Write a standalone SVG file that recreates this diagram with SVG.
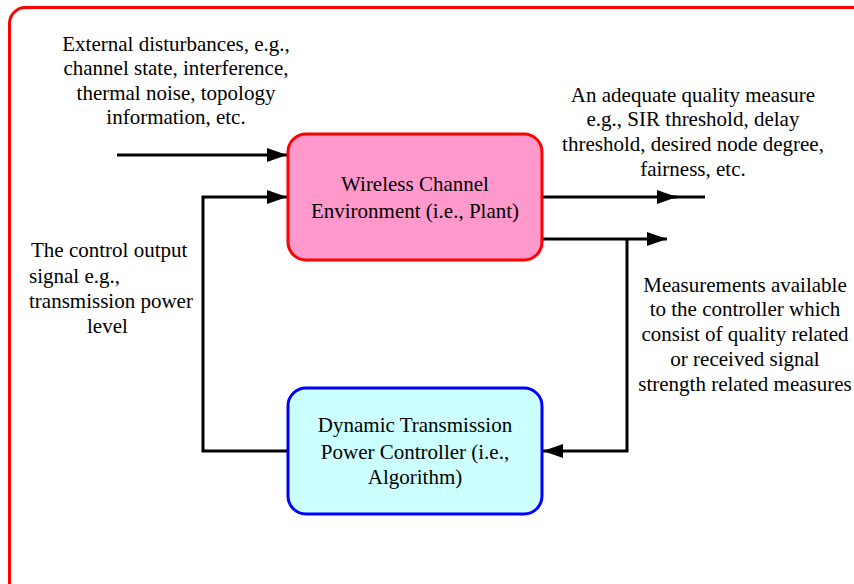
<svg xmlns="http://www.w3.org/2000/svg" width="854" height="584" viewBox="0 0 854 584">
<style>
text{font-family:"Liberation Serif","Times New Roman",serif;font-size:21px;fill:#000}
.c{text-anchor:middle}
.w{fill:none;stroke:#000;stroke-width:3}
</style>
<defs>
<marker id="ah" markerWidth="20" markerHeight="14" refX="20" refY="7" orient="auto" markerUnits="userSpaceOnUse">
<path d="M0,0 L20,7 L0,14 Z" fill="#000"/>
</marker>
</defs>
<rect x="0" y="0" width="854" height="584" fill="#fff"/>
<rect id="frame" x="9.5" y="7.5" width="870" height="600" rx="16" fill="none" stroke="#f00" stroke-width="3"/>
<g id="connectors">
<path class="w" d="M117,155 H287" marker-end="url(#ah)"/>
<path class="w" d="M287,451 H203 V197 H287" marker-end="url(#ah)"/>
<path class="w" d="M542,197 H677" marker-end="url(#ah)"/>
<path class="w" d="M670,197 H705"/>
<path class="w" d="M542,239 H667" marker-end="url(#ah)"/>
<path class="w" d="M627,239 V451 H543" marker-end="url(#ah)"/>
</g>
<g id="plant">
<rect x="288" y="134" width="254" height="126" rx="18" fill="#FF99CC" stroke="#f00" stroke-width="3"/>
<text class="c" x="415" y="191">Wireless Channel</text>
<text class="c" x="415" y="218">Environment (i.e., Plant)</text>
</g>
<g id="controller">
<rect x="288" y="388" width="254" height="126" rx="18" fill="#CCFFFF" stroke="#00f" stroke-width="3"/>
<text class="c" x="415" y="432">Dynamic Transmission</text>
<text class="c" x="415" y="459">Power Controller (i.e.,</text>
<text class="c" x="415" y="484">Algorithm)</text>
</g>
<g id="disturbances">
<text class="c" x="176" y="51">External disturbances, e.g.,</text>
<text class="c" x="176" y="75">channel state, interference,</text>
<text class="c" x="176" y="100">thermal noise, topology</text>
<text class="c" x="176" y="124">information, etc.</text>
</g>
<g id="quality">
<text class="c" x="693" y="102">An adequate quality measure</text>
<text class="c" x="693" y="126">e.g., SIR threshold, delay</text>
<text class="c" x="693" y="151">threshold, desired node degree,</text>
<text class="c" x="693" y="176">fairness, etc.</text>
</g>
<g id="control-output">
<text x="31" y="257">The control output</text>
<text x="29" y="283">signal e.g.,</text>
<text x="29" y="308">transmission power</text>
<text x="87" y="333">level</text>
</g>
<g id="measurements">
<text class="c" x="745" y="292">Measurements available</text>
<text class="c" x="745" y="316">to the controller which</text>
<text class="c" x="745" y="341">consist of quality related</text>
<text class="c" x="745" y="366">or received signal</text>
<text class="c" x="745" y="391">strength related measures</text>
</g>
</svg>
